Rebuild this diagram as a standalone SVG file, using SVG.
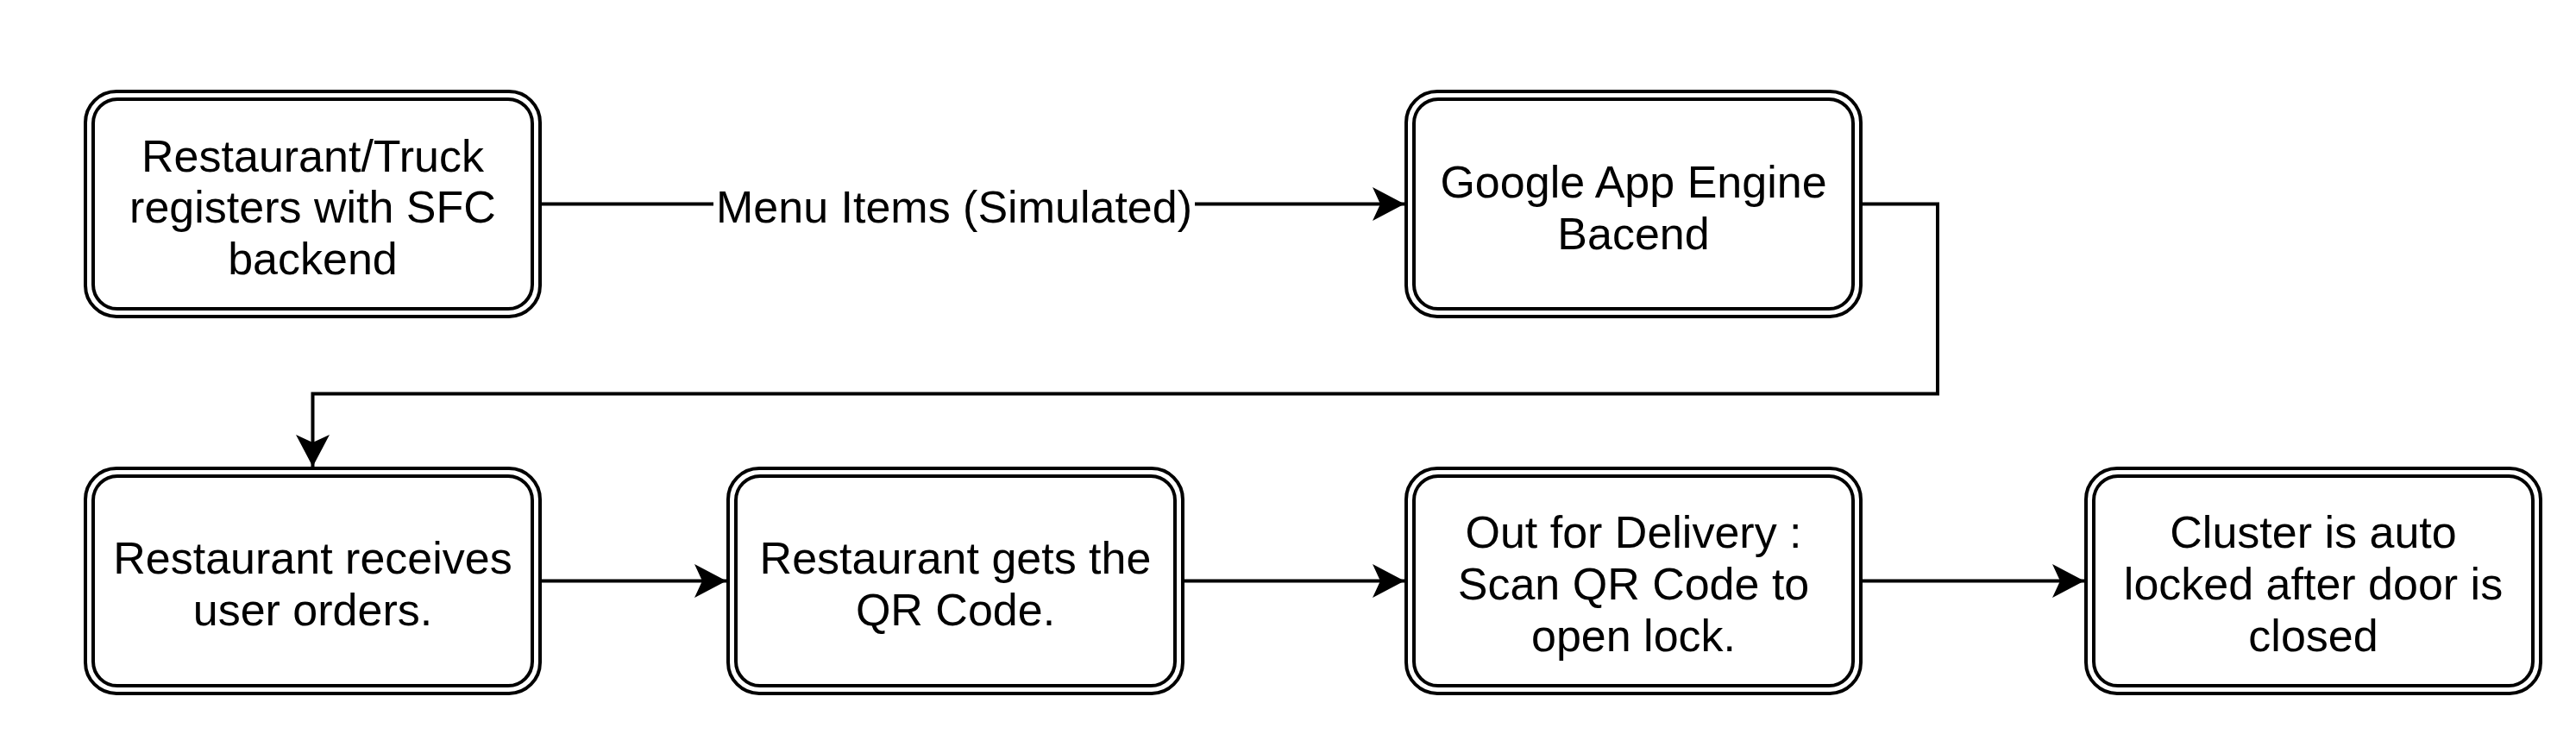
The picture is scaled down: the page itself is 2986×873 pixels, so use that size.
<svg xmlns="http://www.w3.org/2000/svg" width="2986" height="873" viewBox="0 0 2986 873">
  <defs>
    <style>
      .outer { fill: #ffffff; stroke: #000000; stroke-width: 4; }
      .inner { fill: none; stroke: #000000; stroke-width: 4; }
      .lbl { font-family: "Liberation Sans", Arial, sans-serif; font-size: 52px; fill: #000000; text-anchor: middle; }
      .edge { fill: none; stroke: #000000; stroke-width: 4; }
    </style>
    <marker id="arrow" markerUnits="userSpaceOnUse" markerWidth="40" markerHeight="42" viewBox="-38 -21 40 42" refX="0" refY="0" orient="auto">
      <path d="M0,0 L-37,-19.5 L-28,0 L-37,19.5 Z" fill="#000000" stroke="none"/>
    </marker>
  </defs>
  <rect x="0" y="0" width="2986" height="873" fill="#ffffff"/>

  <g id="connectors">
    <path class="edge" d="M626,236.5 H1628" marker-end="url(#arrow)"/>
    <rect x="827" y="205" width="558" height="68" fill="#ffffff"/>
    <text class="lbl" x="1106" y="258">Menu Items (Simulated)</text>
    <path class="edge" d="M2157,236.5 H2246 V456.5 H362.5 V541" marker-end="url(#arrow)"/>
    <path class="edge" d="M626,673.5 H842" marker-end="url(#arrow)"/>
    <path class="edge" d="M1371,673.5 H1628" marker-end="url(#arrow)"/>
    <path class="edge" d="M2157,673.5 H2416" marker-end="url(#arrow)"/>
  </g>

  <g id="node1">
    <rect class="outer" x="99" y="106" width="527" height="261" rx="36" ry="36"/>
    <rect class="inner" x="108" y="115" width="509" height="243" rx="28" ry="28"/>
    <text class="lbl" x="362.5" y="199">Restaurant/Truck</text>
    <text class="lbl" x="362.5" y="258">registers with SFC</text>
    <text class="lbl" x="362.5" y="318">backend</text>
  </g>

  <g id="node2">
    <rect class="outer" x="1630" y="106" width="527" height="261" rx="36" ry="36"/>
    <rect class="inner" x="1639" y="115" width="509" height="243" rx="28" ry="28"/>
    <text class="lbl" x="1893.5" y="228.5">Google App Engine</text>
    <text class="lbl" x="1893.5" y="288.5">Bacend</text>
  </g>

  <g id="node3">
    <rect class="outer" x="99" y="543" width="527" height="261" rx="36" ry="36"/>
    <rect class="inner" x="108" y="552" width="509" height="243" rx="28" ry="28"/>
    <text class="lbl" x="362.5" y="664.5">Restaurant receives</text>
    <text class="lbl" x="362.5" y="724.5">user orders.</text>
  </g>

  <g id="node4">
    <rect class="outer" x="844" y="543" width="527" height="261" rx="36" ry="36"/>
    <rect class="inner" x="853" y="552" width="509" height="243" rx="28" ry="28"/>
    <text class="lbl" x="1107.5" y="664.5">Restaurant gets the</text>
    <text class="lbl" x="1107.5" y="724.5">QR Code.</text>
  </g>

  <g id="node5">
    <rect class="outer" x="1630" y="543" width="527" height="261" rx="36" ry="36"/>
    <rect class="inner" x="1639" y="552" width="509" height="243" rx="28" ry="28"/>
    <text class="lbl" x="1893.5" y="635">Out for Delivery :</text>
    <text class="lbl" x="1893.5" y="695">Scan QR Code to</text>
    <text class="lbl" x="1893.5" y="755">open lock.</text>
  </g>

  <g id="node6">
    <rect class="outer" x="2418" y="543" width="527" height="261" rx="36" ry="36"/>
    <rect class="inner" x="2427" y="552" width="509" height="243" rx="28" ry="28"/>
    <text class="lbl" x="2681.5" y="635">Cluster is auto</text>
    <text class="lbl" x="2681.5" y="695">locked after door is</text>
    <text class="lbl" x="2681.5" y="755">closed</text>
  </g>
</svg>
